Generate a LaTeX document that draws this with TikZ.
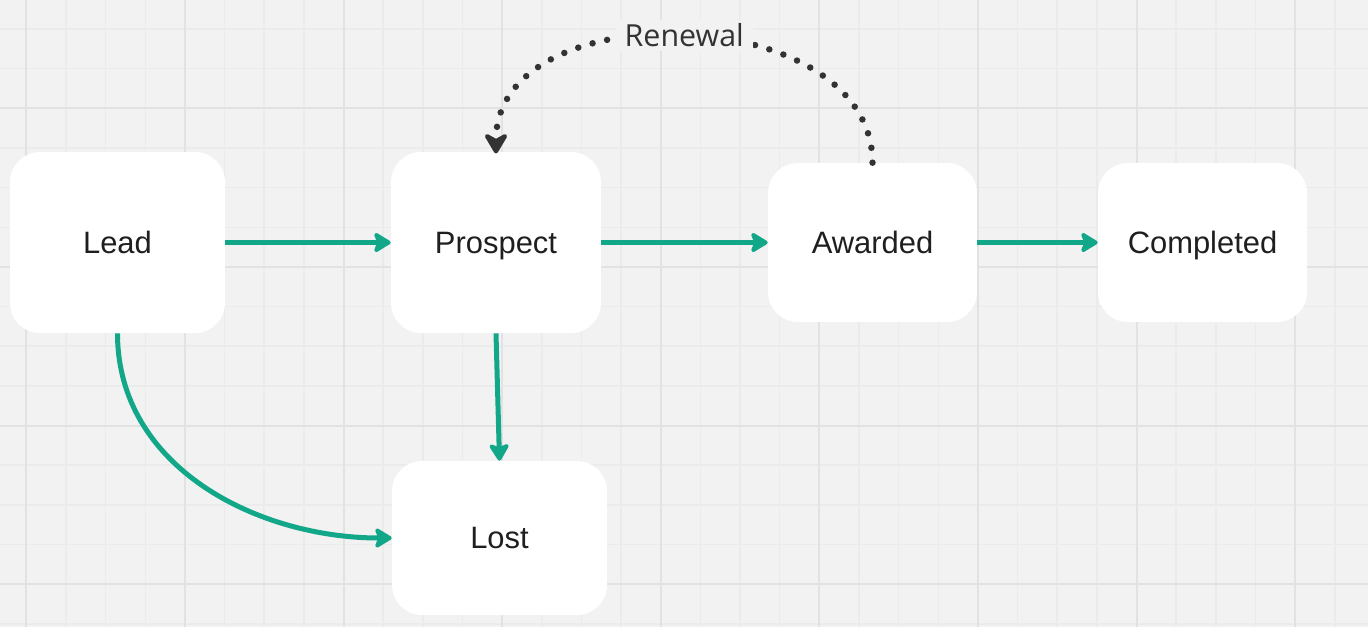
\documentclass[tikz,border=0pt]{standalone}
\usepackage{fontspec}
\setmainfont{Liberation Sans}
\newfontfamily\notefont{Open Sans}
\usetikzlibrary{arrows.meta}

\definecolor{canvas}{HTML}{F2F2F2}
\definecolor{gridminor}{HTML}{EBEBEB}
\definecolor{gridmajor}{HTML}{E2E2E2}
\definecolor{flowteal}{HTML}{12A788}
\definecolor{inkdark}{HTML}{333333}

\tikzset{
  stage/.style={fill=white, rounded corners=0.6cm, inner sep=0pt,
    text height=12pt, text depth=0pt,
    font=\fontsize{17.6}{20}\selectfont, text=black!88},
  flow/.style={draw=flowteal, line width=0.1cm,
    -{Stealth[length=11.3pt, width=13.6pt, inset=2.6pt, round]}},
  renewal/.style={draw=inkdark, line width=0.13cm, line cap=round,
    dash pattern=on 0pt off 8.5pt,
    -{Stealth[length=14pt, width=16.4pt, inset=4.5pt, round, sep=-1pt]}},
  renewlabel/.style={fill=canvas, inner xsep=5pt, inner ysep=2pt,
    font=\notefont\fontsize{17.3}{20}\selectfont, text=inkdark}
}

\begin{document}
\begin{tikzpicture}[x=0.02cm, y=-0.02cm]
  % canvas and grid (pixel units, y downwards)
  \useasboundingbox (0,0) rectangle (1368,627);
  \fill[canvas] (0,0) rectangle (1368,627);
  \foreach \i in {0,...,33}
    \draw[gridminor, line width=0.03cm] ({26.3+39.65*\i},0) -- ++(0,627);
  \foreach \j in {0,...,15}
    \draw[gridminor, line width=0.03cm] (0,{29+39.65*\j}) -- ++(1368,0);
  \foreach \i in {0,4,...,32}
    \draw[gridmajor, line width=0.04cm] ({26.3+39.65*\i},0) -- ++(0,627);
  \foreach \j in {2,6,10,14}
    \draw[gridmajor, line width=0.04cm] (0,{29+39.65*\j}) -- ++(1368,0);

  % stages
  \node[stage, minimum width=4.3cm, minimum height=3.62cm] (lead) at (117.5,242.5) {Lead};
  \node[stage, minimum width=4.2cm, minimum height=3.62cm] (prospect) at (496,242.5) {Prospect};
  \node[stage, minimum width=4.18cm, minimum height=3.18cm] (awarded) at (872.5,242.5) {Awarded};
  \node[stage, minimum width=4.18cm, minimum height=3.18cm] (completed) at (1202.5,242.5) {Completed};
  \node[stage, minimum width=4.3cm, minimum height=3.08cm] (lost) at (499.5,538) {Lost};

  % transitions
  \draw[flow] (lead) -- (prospect);
  \draw[flow] (prospect) -- (awarded);
  \draw[flow] (awarded) -- (completed);
  \draw[flow] (prospect.south) -- (lost.north);
  \draw[flow] (lead.south) to[out=-90, in=180] (lost.west);
  \draw[renewal] (awarded.north) to[out=90, in=90, looseness=1.1]
    node[renewlabel] {Renewal} (prospect.north);
\end{tikzpicture}
\end{document}
